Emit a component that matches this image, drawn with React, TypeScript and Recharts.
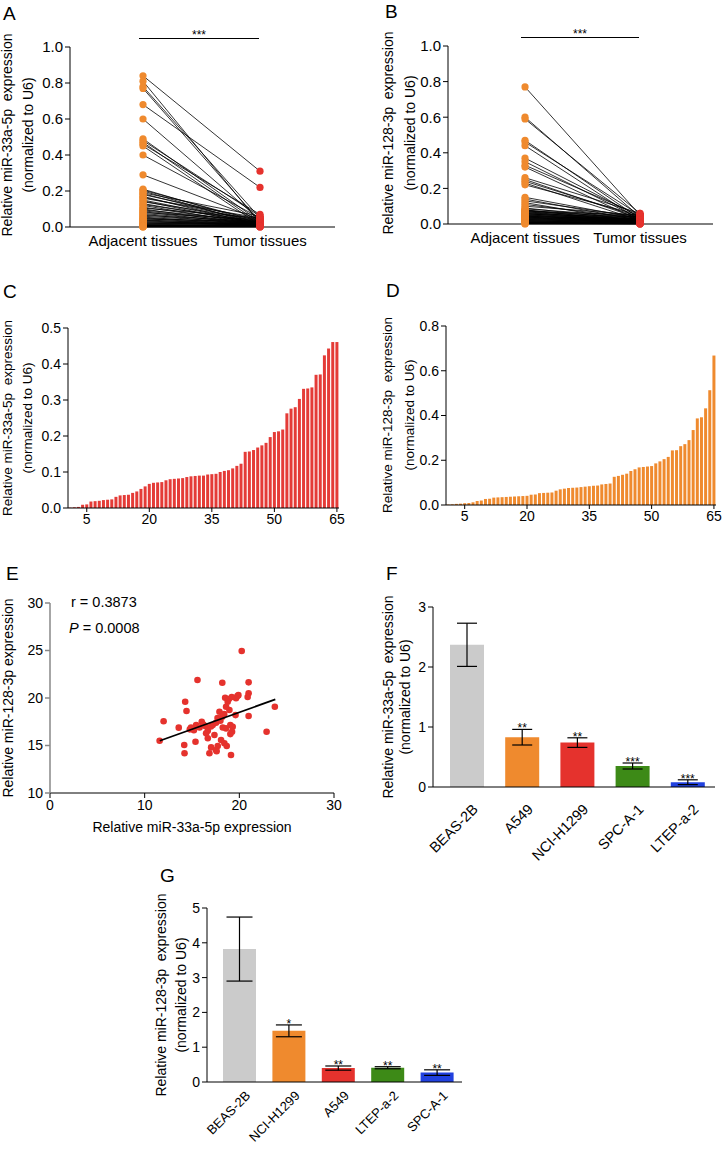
import React from 'react';
import { ScatterChart, Scatter, BarChart, Bar, XAxis, YAxis, ErrorBar, LabelList, Cell } from 'recharts';

const FONT = '"Liberation Sans", Arial, Helvetica, sans-serif';

// A / B: paired adjacent vs tumor values
const groupLabels = ['Adjacent tissues', 'Tumor tissues'];
const adjA = [0.84, 0.81, 0.78, 0.77, 0.68, 0.6, 0.49, 0.48, 0.47, 0.46, 0.45, 0.4, 0.29, 0.21, 0.205, 0.2, 0.19, 0.185, 0.18, 0.17, 0.165, 0.16, 0.15, 0.145, 0.14, 0.13, 0.125, 0.12, 0.11, 0.105, 0.1, 0.095, 0.09, 0.085, 0.08, 0.075, 0.07, 0.065, 0.06, 0.055, 0.05, 0.047, 0.044, 0.04, 0.037, 0.034, 0.03, 0.027, 0.024, 0.021, 0.018, 0.015, 0.013, 0.011, 0.009, 0.008, 0.007, 0.006, 0.005, 0.004, 0.003, 0.003, 0.002, 0.001, 0.001];
const tumA = [0.31, 0.02, 0.05, 0.03, 0.22, 0.04, 0.03, 0.06, 0.02, 0.07, 0.01, 0.05, 0.04, 0.02, 0.03, 0.01, 0.06, 0.02, 0.04, 0.01, 0.03, 0.05, 0.02, 0.01, 0.04, 0.02, 0.03, 0.01, 0.02, 0.05, 0.01, 0.03, 0.02, 0.01, 0.04, 0.02, 0.01, 0.03, 0.02, 0.01, 0.02, 0.01, 0.03, 0.01, 0.02, 0.01, 0.01, 0.02, 0.01, 0.01, 0.02, 0.01, 0.005, 0.01, 0.005, 0.01, 0.005, 0.003, 0.005, 0.003, 0.002, 0.004, 0.002, 0.001, 0.002];
const adjB = [0.77, 0.6, 0.59, 0.47, 0.46, 0.44, 0.37, 0.35, 0.33, 0.32, 0.26, 0.25, 0.24, 0.23, 0.22, 0.15, 0.14, 0.13, 0.12, 0.11, 0.1, 0.09, 0.085, 0.08, 0.078, 0.075, 0.072, 0.07, 0.068, 0.065, 0.062, 0.06, 0.058, 0.055, 0.053, 0.05, 0.048, 0.046, 0.044, 0.042, 0.04, 0.038, 0.036, 0.034, 0.032, 0.03, 0.028, 0.026, 0.024, 0.022, 0.02, 0.018, 0.016, 0.014, 0.012, 0.01, 0.009, 0.008, 0.007, 0.006, 0.005, 0.004, 0.003, 0.002, 0.001];
const tumB = [0.05, 0.04, 0.06, 0.03, 0.05, 0.02, 0.04, 0.03, 0.05, 0.02, 0.06, 0.03, 0.04, 0.02, 0.05, 0.03, 0.02, 0.04, 0.01, 0.03, 0.05, 0.02, 0.04, 0.01, 0.03, 0.02, 0.05, 0.01, 0.04, 0.02, 0.03, 0.01, 0.02, 0.04, 0.01, 0.03, 0.02, 0.01, 0.02, 0.03, 0.01, 0.02, 0.01, 0.03, 0.02, 0.01, 0.02, 0.01, 0.01, 0.02, 0.01, 0.005, 0.01, 0.005, 0.01, 0.005, 0.003, 0.005, 0.003, 0.002, 0.004, 0.002, 0.001, 0.002, 0.001];
const pairedTicks = [0, 0.2, 0.4, 0.6, 0.8, 1];

// C / D: per-sample expression, sorted
const sortedC = [0.001, 0.002, 0.003, 0.009, 0.01, 0.018, 0.019, 0.02, 0.022, 0.023, 0.024, 0.031, 0.035, 0.036, 0.037, 0.042, 0.046, 0.053, 0.06, 0.067, 0.07, 0.071, 0.072, 0.077, 0.08, 0.081, 0.082, 0.083, 0.086, 0.088, 0.089, 0.09, 0.09, 0.093, 0.094, 0.095, 0.1, 0.103, 0.105, 0.11, 0.117, 0.123, 0.156, 0.157, 0.161, 0.168, 0.174, 0.181, 0.197, 0.211, 0.213, 0.218, 0.263, 0.276, 0.28, 0.303, 0.331, 0.332, 0.335, 0.37, 0.371, 0.424, 0.443, 0.461, 0.461];
const sortedD = [0.002, 0.003, 0.005, 0.006, 0.008, 0.009, 0.012, 0.018, 0.02, 0.027, 0.028, 0.033, 0.034, 0.035, 0.036, 0.037, 0.038, 0.039, 0.04, 0.041, 0.046, 0.047, 0.053, 0.054, 0.055, 0.056, 0.064, 0.07, 0.073, 0.076, 0.077, 0.078, 0.08, 0.082, 0.084, 0.086, 0.087, 0.092, 0.094, 0.096, 0.126, 0.13, 0.135, 0.14, 0.152, 0.16, 0.168, 0.17, 0.172, 0.174, 0.186, 0.195, 0.205, 0.215, 0.244, 0.245, 0.263, 0.272, 0.29, 0.335, 0.387, 0.392, 0.432, 0.513, 0.668];
const sampleTicks = [5, 20, 35, 50, 65];
const ticksC = [0, 0.1, 0.2, 0.3, 0.4, 0.5];
const ticksD = [0, 0.2, 0.4, 0.6, 0.8];

// E: correlation
const corrX = [20.25, 15.58, 18.2, 20.98, 14.28, 14.42, 20.98, 20.88, 19.9, 19.65, 19.8, 18.5, 18.77, 18.95, 18.6, 17.9, 18.2, 19.6, 23.75, 20.98, 12.0, 13.6, 14.77, 15.44, 16.03, 15.8, 16.39, 16.67, 17.19, 17.54, 18.25, 18.6, 19.05, 19.3, 19.23, 19.05, 22.88, 17.37, 16.49, 16.67, 15.37, 11.58, 14.18, 14.21, 17.02, 18.07, 18.42, 17.72, 18.67, 17.54, 16.84, 19.12, 17.6, 18.4, 17.7, 18.9, 19.2, 15.2, 16.2, 17.0, 18.0, 14.9];
const corrY = [24.95, 21.9, 21.6, 21.65, 19.6, 18.63, 20.5, 20.1, 20.3, 19.97, 20.2, 20.03, 19.6, 18.74, 19.08, 18.56, 18.03, 18.2, 19.08, 18.1, 17.55, 16.88, 16.7, 17.16, 17.5, 16.9, 17.05, 16.56, 17.16, 17.4, 16.9, 16.8, 17.16, 16.98, 16.45, 16.2, 16.45, 16.1, 16.28, 15.76, 15.4, 15.5, 15.05, 14.18, 14.8, 15.58, 15.23, 14.95, 14.95, 14.53, 14.18, 14.0, 14.4, 18.3, 17.9, 19.9, 20.1, 16.6, 17.2, 17.0, 17.6, 16.9];
const fitX = [11.6, 23.8];
const fitY = [15.5, 19.85];

// F / G: cell lines
const cellsF = ['BEAS-2B', 'A549', 'NCI-H1299', 'SPC-A-1', 'LTEP-a-2'];
const meanF = [2.37, 0.83, 0.74, 0.35, 0.08];
const errF = [0.36, 0.13, 0.08, 0.05, 0.04];
const starsF = ['', '**', '**', '***', '***'];
const cellsG = ['BEAS-2B', 'NCI-H1299', 'A549', 'LTEP-a-2', 'SPC-A-1'];
const meanG = [3.82, 1.47, 0.4, 0.41, 0.27];
const errG = [0.92, 0.17, 0.06, 0.03, 0.08];
const starsG = ['', '*', '**', '**', '**'];
const barColors = ['#cbcbcb', '#ef8a2e', '#e5322d', '#3d8a17', '#2141df'];

const ORANGE = '#ef8a2e';
const RED = '#e5322d';

const tickStyle = (size: number) => ({ fill: '#000', fontSize: size, fontFamily: FONT });

const Box = ({ left, top, children }: any) => (
  <div style={{ position: 'absolute', left, top }}>{children}</div>
);

const Letter = ({ left, top, children }: any) => (
  <div style={{ position: 'absolute', left, top, fontSize: 19, lineHeight: '19px', fontFamily: FONT }}>{children}</div>
);

const VLabel = ({ x, y, size, children }: any) => (
  <div
    style={{
      position: 'absolute', left: x, top: y, transform: 'translate(-50%, -50%) rotate(-90deg)',
      whiteSpace: 'pre', fontSize: size, lineHeight: 1, fontFamily: FONT, color: '#000',
    }}
  >
    {children}
  </div>
);

const noDot = () => <g />;
const dot = (color: string, r: number) => (p: any) => <circle cx={p.cx} cy={p.cy} r={r} fill={color} />;

function PairedChart({ adj, tum, xDomain, marginTop, marginBottom }: any) {
  const pairs = adj.map((a: number, i: number) => [{ x: 0, y: a }, { x: 1, y: tum[i] }]);
  const adjPts = adj.map((v: number) => ({ x: 0, y: v }));
  const tumPts = tum.map((v: number) => ({ x: 1, y: v }));
  return (
    <ScatterChart width={345} height={230} margin={{ top: marginTop, right: 10, bottom: marginBottom, left: 0 }}>
      <XAxis
        type="number" dataKey="x" domain={xDomain} ticks={[0, 1]} allowDataOverflow
        tickFormatter={(v: number) => groupLabels[v]} tickLine={false} stroke="#000"
        tick={tickStyle(15)} height={30} interval={0}
      />
      <YAxis
        type="number" dataKey="y" domain={[0, 1]} ticks={pairedTicks} tickFormatter={(v: number) => v.toFixed(1)}
        width={70} stroke="#000" tick={tickStyle(15)} tickSize={5}
      />
      {pairs.map((p: any, i: number) => (
        <Scatter key={i} data={p} line={{ stroke: '#000', strokeWidth: 0.8 }} shape={noDot} isAnimationActive={false} />
      ))}
      <Scatter data={adjPts} shape={dot(ORANGE, 3.6)} isAnimationActive={false} />
      <Scatter data={tumPts} shape={dot(RED, 3.6)} isAnimationActive={false} />
    </ScatterChart>
  );
}

function SortedBars({ values, color, width, marginBottom, yTicks }: any) {
  const data = values.map((v: number, i: number) => ({ idx: i + 1, v }));
  return (
    <BarChart width={width} height={235} data={data} margin={{ top: 18, right: 6, bottom: marginBottom, left: 0 }} barCategoryGap="14%">
      <XAxis dataKey="idx" type="category" ticks={sampleTicks} interval={0} stroke="#000" tick={tickStyle(14)} tickSize={4} height={30} />
      <YAxis
        domain={[0, yTicks[yTicks.length - 1]]} ticks={yTicks} tickFormatter={(v: number) => v.toFixed(1)}
        width={68} stroke="#000" tick={tickStyle(14)} tickSize={5}
      />
      <Bar dataKey="v" fill={color} isAnimationActive={false} />
    </BarChart>
  );
}

const SlantTick = ({ x, y, payload, fs, oy }: any) => (
  <g transform={`translate(${x + 5},${y + oy})`}>
    <text x={0} y={0} dy="0.7em" textAnchor="end" transform="rotate(-45)" fontSize={fs} fontFamily={FONT} fill="#000">
      {payload.value}
    </text>
  </g>
);

const starLabel = (stars: string[], errs: number[]) => (p: any) => {
  const { x, y, width, height, value, index } = p;
  const s = stars[index];
  if (!s) return null;
  const pxPer = Number(height) / Number(value);
  const top = Number(y) - errs[index] * pxPer;
  return (
    <text x={Number(x) + Number(width) / 2} y={top + 3} textAnchor="middle" fontSize={12} fontFamily={FONT} fill="#000">
      {s}
    </text>
  );
};

function CellBars({ cells, means, errs, stars, width, height, margin, xHeight, padLeft, barSize, yMax, capW, tickFs, tickOy }: any) {
  const data = cells.map((c: string, i: number) => ({ cell: c, mean: means[i], err: errs[i] }));
  const yTicks = Array.from({ length: yMax + 1 }, (_, i) => i);
  return (
    <BarChart width={width} height={height} data={data} margin={margin} barSize={barSize}>
      <XAxis
        dataKey="cell" type="category" interval={0} stroke="#000" tick={<SlantTick fs={tickFs} oy={tickOy} />}
        tickLine={false} height={xHeight} padding={{ left: padLeft, right: 0 }}
      />
      <YAxis domain={[0, yMax]} ticks={yTicks} width={40} stroke="#000" tick={tickStyle(14)} tickSize={5} />
      <Bar dataKey="mean" isAnimationActive={false}>
        {data.map((_: any, i: number) => (
          <Cell key={i} fill={barColors[i]} />
        ))}
        <ErrorBar dataKey="err" width={capW} stroke="#000" strokeWidth={1.2} direction="y" />
        <LabelList dataKey="mean" content={starLabel(stars, errs)} />
      </Bar>
    </BarChart>
  );
}

export default function App() {
  const corrPts = corrX.map((x, i) => ({ x, y: corrY[i] }));
  const fitPts = fitX.map((x, i) => ({ x, y: fitY[i] }));
  return (
    <div style={{ position: 'absolute', left: 0, top: 0, width: 723, height: 1150, background: '#fff', overflow: 'hidden', fontFamily: FONT }}>
      {/* A */}
      <Letter left={3} top={4}>A</Letter>
      <Box left={0} top={30}>
        <PairedChart adj={adjA} tum={tumA} xDomain={[-0.624, 1.641]} marginTop={17} marginBottom={3} />
      </Box>
      <VLabel x={7} y={135} size={14}>{'Relative miR-33a-5p  expression'}</VLabel>
      <VLabel x={28} y={135} size={14}>{'(normalized to U6)'}</VLabel>
      <div style={{ position: 'absolute', left: 139, top: 38, width: 120, borderTop: '1.2px solid #000' }} />
      <div style={{ position: 'absolute', left: 139, top: 29, width: 120, textAlign: 'center', fontSize: 12, lineHeight: '12px' }}>***</div>

      {/* B */}
      <Letter left={385} top={2}>B</Letter>
      <Box left={378} top={30}>
        <PairedChart adj={adjB} tum={tumB} xDomain={[-0.67, 1.635]} marginTop={16} marginBottom={6} />
      </Box>
      <VLabel x={388} y={133} size={14}>{'Relative miR-128-3p  expression'}</VLabel>
      <VLabel x={410} y={133} size={14}>{'(normalized to U6)'}</VLabel>
      <div style={{ position: 'absolute', left: 521, top: 37, width: 118, borderTop: '1.2px solid #000' }} />
      <div style={{ position: 'absolute', left: 521, top: 28, width: 118, textAlign: 'center', fontSize: 12, lineHeight: '12px' }}>***</div>

      {/* C */}
      <Letter left={3} top={282}>C</Letter>
      <Box left={0} top={310}>
        <SortedBars values={sortedC} color="#e43b37" width={345} marginBottom={7} yTicks={ticksC} />
      </Box>
      <VLabel x={8} y={418} size={13.5}>{'Relative miR-33a-5p  expression'}</VLabel>
      <VLabel x={28} y={418} size={13.5}>{'(normalized to U6)'}</VLabel>

      {/* D */}
      <Letter left={386} top={281}>D</Letter>
      <Box left={378} top={308}>
        <SortedBars values={sortedD} color={ORANGE} width={344} marginBottom={8} yTicks={ticksD} />
      </Box>
      <VLabel x={388} y={415} size={13.5}>{'Relative miR-128-3p  expression'}</VLabel>
      <VLabel x={410} y={415} size={13.5}>{'(normalized to U6)'}</VLabel>

      {/* E */}
      <Letter left={6} top={564}>E</Letter>
      <Box left={0} top={585}>
        <ScatterChart width={345} height={245} margin={{ top: 18, right: 11, bottom: 7, left: 0 }}>
          <XAxis type="number" dataKey="x" domain={[0, 30]} ticks={[0, 10, 20, 30]} stroke="#000" tick={tickStyle(14)} tickSize={5} height={30} />
          <YAxis type="number" dataKey="y" domain={[10, 30]} ticks={[10, 15, 20, 25, 30]} width={50} stroke="#888" strokeWidth={1.5} tick={tickStyle(14)} tickSize={5} />
          <Scatter data={corrPts} shape={dot(RED, 3.3)} isAnimationActive={false} />
          <Scatter data={fitPts} line={{ stroke: '#000', strokeWidth: 1.8 }} shape={noDot} isAnimationActive={false} />
        </ScatterChart>
      </Box>
      <VLabel x={8} y={698} size={14}>{'Relative miR-128-3p expression'}</VLabel>
      <div style={{ position: 'absolute', left: 192, top: 827, transform: 'translate(-50%, -50%)', whiteSpace: 'nowrap', fontSize: 14 }}>
        Relative miR-33a-5p expression
      </div>
      <div style={{ position: 'absolute', left: 71, top: 594, fontSize: 14.5, lineHeight: '16px', whiteSpace: 'nowrap' }}>r = 0.3873</div>
      <div style={{ position: 'absolute', left: 69, top: 620, fontSize: 14.5, lineHeight: '16px', whiteSpace: 'nowrap' }}>
        <i>P</i> = 0.0008
      </div>

      {/* F */}
      <Letter left={386} top={564}>F</Letter>
      <Box left={393} top={588}>
        <CellBars
          cells={cellsF} means={meanF} errs={errF} stars={starsF} width={330} height={275}
          margin={{ top: 19, right: 8, bottom: 6, left: 0 }} xHeight={70} padLeft={6} barSize={34} yMax={3} capW={10}
          tickFs={14.5} tickOy={8}
        />
      </Box>
      <VLabel x={388} y={697} size={14}>{'Relative miR-33a-5p  expression'}</VLabel>
      <VLabel x={405} y={697} size={14}>{'(normalized to U6)'}</VLabel>

      {/* G */}
      <Letter left={160} top={866}>G</Letter>
      <Box left={167} top={890}>
        <CellBars
          cells={cellsG} means={meanG} errs={errG} stars={starsG} width={305} height={260}
          margin={{ top: 18, right: 10, bottom: 3, left: 0 }} xHeight={65} padLeft={8} barSize={33} yMax={5} capW={13}
          tickFs={13} tickOy={0}
        />
      </Box>
      <VLabel x={161} y={995} size={14}>{'Relative miR-128-3p  expression'}</VLabel>
      <VLabel x={181} y={995} size={14}>{'(normalized to U6)'}</VLabel>
    </div>
  );
}
